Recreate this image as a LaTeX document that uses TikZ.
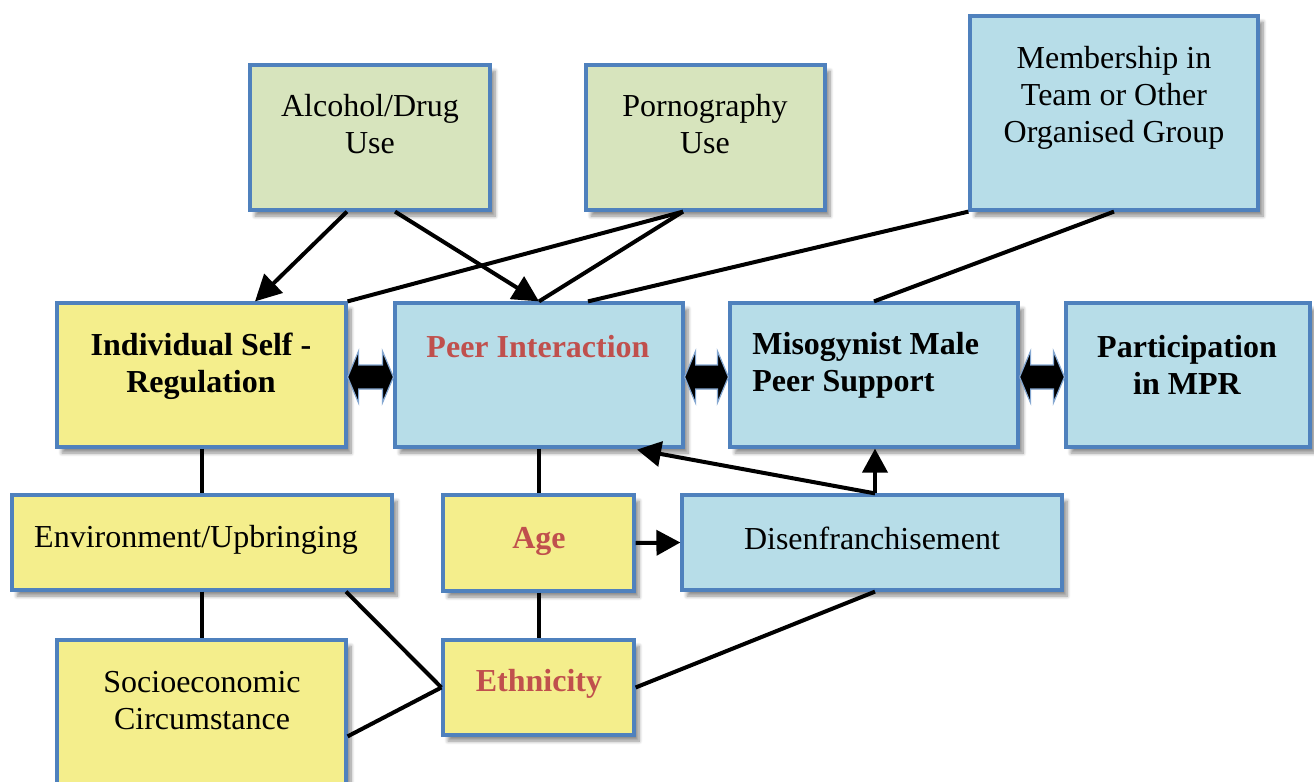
\documentclass[tikz,border=0pt]{standalone}
\usepackage{fontspec}
\setmainfont{Liberation Serif}
\usetikzlibrary{calc,arrows.meta,shadows.blur}
\definecolor{byel}{HTML}{F4EE8C}
\definecolor{bgreen}{HTML}{D7E4BD}
\definecolor{bblue}{HTML}{B7DDE8}
\definecolor{bline}{HTML}{4F81BD}
\definecolor{tred}{HTML}{C0504D}
\newcommand\dblarr[2]{%
  \filldraw[dblarrow] ($(#1)+(0,2)$) -- ($(#1)+(11,-24)$) -- ($(#1)+(11,-10)$) -- ($(#2)+(-11,-10)$) -- ($(#2)+(-11,-24)$) -- ($(#2)+(0,2)$) -- ($(#2)+(-11,28)$) -- ($(#2)+(-11,14)$) -- ($(#1)+(11,14)$) -- ($(#1)+(11,28)$) -- cycle;}
\begin{document}
\begin{tikzpicture}[x=0.5pt,y=-0.5pt,
  box/.style={draw=bline, line width=1.6pt, inner sep=0pt, rectangle,
    blur shadow={shadow xshift=2.5pt, shadow yshift=-3pt, shadow blur steps=8, shadow opacity=45}},
  ybox/.style={box, fill=byel},
  gbox/.style={box, fill=bgreen},
  bbox/.style={box, fill=bblue},
  txt/.style={align=center, inner sep=0pt, font=\fontsize{16}{18.5}\selectfont},
  btxt/.style={txt, font=\fontsize{16}{18.5}\selectfont\bfseries},
  rtxt/.style={btxt, text=tred},
  conn/.style={line width=2pt, black},
  arr/.style={conn, -{Triangle[length=13pt,width=13pt]}},
  dblarrow/.style={fill=black, draw=bline!70, line width=0.6pt, line join=miter}
]
\useasboundingbox (0,0) rectangle (1314,782);
\clip (0,0) rectangle (1314,782);

% boxes
\node[gbox, minimum width=120pt, minimum height=72.5pt] (alc) at (370,137.5) {};
\node[gbox, minimum width=119.5pt, minimum height=72.5pt] (porn) at (705.5,137.5) {};
\node[bbox, minimum width=144pt, minimum height=97pt] (mem) at (1114,113) {};
\node[ybox, minimum width=144.5pt, minimum height=72pt] (ind) at (201.5,375) {};
\node[bbox, minimum width=144pt, minimum height=72pt] (peer) at (539,375) {};
\node[bbox, minimum width=144pt, minimum height=72pt] (mis) at (874,375) {};
\node[bbox, minimum width=122pt, minimum height=72pt] (par) at (1188,375) {};
\node[ybox, minimum width=190pt, minimum height=47.5pt] (env) at (202,542.5) {};
\node[ybox, minimum width=95.5pt, minimum height=48pt] (age) at (538.5,543) {};
\node[bbox, minimum width=190pt, minimum height=47.5pt] (dis) at (872,542.5) {};
\node[ybox, minimum width=144.5pt, minimum height=90pt] (soc) at (201.5,730) {};
\node[ybox, minimum width=95.5pt, minimum height=47.5pt] (eth) at (538.5,687.5) {};

% connectors
\draw[arr] ($(alc.south)+(-23,0)$) -- ($(ind.north)+(53.5,0)$);
\draw[arr] ($(alc.south)+(25,0)$) -- (peer.north);
\draw[conn] ($(porn.south)+(-22.5,0)$) -- (ind.north east);
\draw[conn] ($(porn.south)+(-22.5,0)$) -- (peer.north);
\draw[conn] (mem.south west) -- ($(peer.north)+(49,0)$);
\draw[conn] (mem.south) -- (mis.north);
\draw[conn] (ind.south) -- (ind.south |- env.north);
\draw[conn] (env.south) -- (env.south |- soc.north);
\draw[conn] (peer.south) -- (peer.south |- age.north);
\draw[conn] (age.south) -- (age.south |- eth.north);
\draw[arr, -{Triangle[length=12pt,width=12.5pt]}] (age.east) -- (dis.west);
\draw[arr, -{Triangle[length=12pt,width=12.5pt]}] ($(dis.north)+(3,0)$) -- ($(mis.south)+(1,0)$);
\draw[arr, -{Triangle[length=12pt,width=12.5pt]}] ($(dis.north)+(3,0)$) -- ($(peer.south)+(98,1)$);
\draw[conn] ($(env.south)+(144,0)$) -- (eth.west);
\draw[conn] ($(soc.north east)+(0,98)$) -- (eth.west);
\draw[conn] (eth.east) -- ($(dis.south)+(3,0)$);

% double block arrows
\dblarr{ind.east}{peer.west}
\dblarr{peer.east}{mis.west}
\dblarr{mis.east}{par.west}

% texts
\node[txt] (alct) at (370,124) {Alcohol/Drug\\Use};
\node[txt] (pornt) at (705,124) {Pornography\\Use};
\node[txt] (memt) at (1114,98) {Membership in\\Team or Other\\Organised Group};
\node[btxt] (indt) at (201,366) {Individual Self -\\Regulation};
\node[rtxt] (peert) at (538,347) {Peer Interaction};
\node[btxt, align=left, anchor=west] (mist) at (752,365) {Misogynist Male\\Peer Support};
\node[btxt] (part) at (1187,365) {Participation\\in MPR};
\node[txt] (envt) at (196,540) {Environment/Upbringing};
\node[rtxt] (aget) at (539,541) {Age};
\node[txt] (dist) at (872,538) {Disenfranchisement};
\node[txt] (soct) at (202,701) {Socioeconomic\\Circumstance};
\node[rtxt] (etht) at (539,684) {Ethnicity};
\end{tikzpicture}
\end{document}
